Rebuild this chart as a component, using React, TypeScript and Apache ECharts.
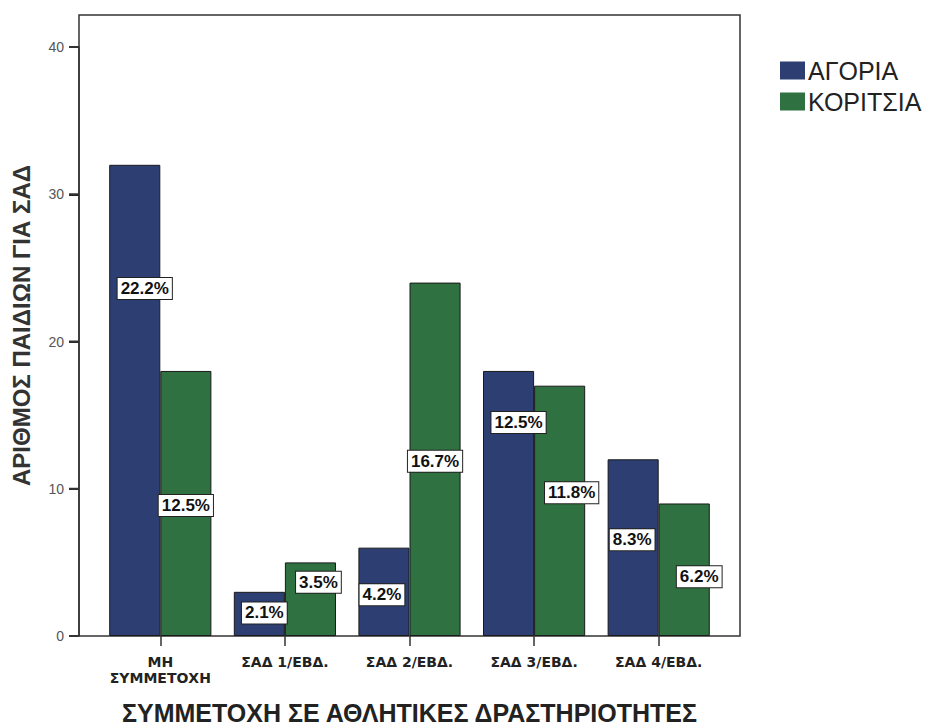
import React, { useEffect, useRef } from "react";
import * as echarts from "echarts";

const categories = ["ΜΗ\nΣΥΜΜΕΤΟΧΗ", "ΣΑΔ 1/ΕΒΔ.", "ΣΑΔ 2/ΕΒΔ.", "ΣΑΔ 3/ΕΒΔ.", "ΣΑΔ 4/ΕΒΔ."];
const boys = [32, 3, 6, 18, 12];
const girls = [18, 5, 24, 17, 9];
const boysPct = ["22.2%", "2.1%", "4.2%", "12.5%", "8.3%"];
const girlsPct = ["12.5%", "3.5%", "16.7%", "11.8%", "6.2%"];
const yTicks = [0, 10, 20, 30, 40];
const yMin = 0;
const yMax = 40;
const yInterval = 10;

// label offsets (styling only) relative to bar centre
const boysLabelOffset = [[10, -112], [5, -1], [-2, 3], [10, -81], [-1, -8]];
const girlsLabelOffset = [[0, 2], [8, -17], [0, 2], [12, -18], [15, 7]];

const FONT = "'Liberation Sans', Arial, sans-serif";
const WIDE = "'DejaVu Sans', Verdana, sans-serif";

export default function App() {
  const ref = useRef<HTMLDivElement>(null);
  useEffect(() => {
    if (!ref.current) return;
    const chart = echarts.init(ref.current, null, { renderer: "svg" });
    const labelStyle = {
      show: true,
      position: "inside",
      backgroundColor: "#ffffff",
      borderColor: "#222",
      borderWidth: 1,
      padding: [2, 3],
      color: "#111",
      fontFamily: FONT,
      fontWeight: "bold",
      fontSize: 17,
      lineHeight: 17,
    };
    const mk = (vals: number[], pcts: string[], offs: number[][]) =>
      vals.map((v, i) => ({
        value: v,
        label: { ...labelStyle, formatter: pcts[i], offset: offs[i] },
      }));
    const PLOT_LEFT = 79;
    const PLOT_TOP = 47;
    const PLOT_H = 589;
    chart.setOption({
      animation: false,
      backgroundColor: "#ffffff",
      textStyle: { fontFamily: FONT },
      legend: {
        orient: "vertical",
        left: 780,
        top: 58,
        padding: 0,
        icon: "rect",
        itemWidth: 25,
        itemHeight: 18,
        itemGap: 6,
        itemStyle: { borderWidth: 0 },
        textStyle: { fontSize: 25, color: "#222", fontFamily: FONT, padding: [0, 0, 0, -2] },
        data: ["ΑΓΟΡΙΑ", "ΚΟΡΙΤΣΙΑ"],
      },
      grid: [
        {
          left: PLOT_LEFT,
          width: 661,
          top: 15,
          height: 621,
          show: true,
          borderColor: "#333",
          borderWidth: 1.5,
          backgroundColor: "transparent",
          outerBoundsMode: "none",
          containLabel: false,
        },
        { left: PLOT_LEFT, width: 661, top: PLOT_TOP, height: PLOT_H, outerBoundsMode: "none", containLabel: false },
        { left: 98, width: 623, top: PLOT_TOP, height: PLOT_H, outerBoundsMode: "none", containLabel: false },
      ],
      xAxis: [
        { type: "value", gridIndex: 0, show: false, min: 0, max: 1 },
        { type: "value", gridIndex: 1, show: false, min: 0, max: 1 },
        {
          type: "category",
          gridIndex: 2,
          data: categories,
          axisLine: { show: false },
          axisTick: { show: true, alignWithLabel: true, length: 10, lineStyle: { color: "#333", width: 1.5 } },
          axisLabel: {
            margin: 18,
            fontSize: 14,
            lineHeight: 16,
            fontWeight: "bold",
            color: "#222",
            fontFamily: WIDE,
            interval: 0,
          },
          name: "ΣΥΜΜΕΤΟΧΗ ΣΕ ΑΘΛΗΤΙΚΕΣ ΔΡΑΣΤΗΡΙΟΤΗΤΕΣ",
          nameLocation: "middle",
          nameGap: 64,
          nameTextStyle: { fontSize: 25, fontWeight: "bold", color: "#222", fontFamily: FONT },
        },
      ],
      yAxis: [
        {
          type: "value",
          gridIndex: 0,
          min: 0,
          max: 1,
          axisLine: { show: false },
          axisTick: { show: false },
          axisLabel: { show: false },
          splitLine: { show: false },
          name: "ΑΡΙΘΜΟΣ ΠΑΙΔΙΩΝ ΓΙΑ ΣΑΔ",
          nameLocation: "middle",
          nameRotate: 90,
          nameGap: 46,
          nameTextStyle: { fontSize: 24, fontWeight: "bold", color: "#333", fontFamily: FONT },
        },
        {
          type: "value",
          gridIndex: 1,
          min: yMin,
          max: yMax,
          interval: yInterval,
          position: "left",
          axisLine: { show: true, onZero: false, lineStyle: { color: "#333", width: 1.5 } },
          axisTick: { show: true, inside: false, length: 10, lineStyle: { color: "#222", width: 2 } },
          axisLabel: { show: true, fontSize: 14, color: "#555", margin: 15, fontFamily: FONT },
          splitLine: { show: false },
        },
        { type: "value", gridIndex: 2, min: yMin, max: yMax, interval: yInterval, show: false },
      ],
      series: [
        {
          name: "ΑΓΟΡΙΑ",
          type: "bar",
          xAxisIndex: 2,
          yAxisIndex: 2,
          barGap: "0%",
          barCategoryGap: "18%",
          itemStyle: { color: "#2c3e72", borderColor: "#1a1a1a", borderWidth: 1 },
          data: mk(boys, boysPct, boysLabelOffset),
        },
        {
          name: "ΚΟΡΙΤΣΙΑ",
          type: "bar",
          xAxisIndex: 2,
          yAxisIndex: 2,
          barGap: "0%",
          barCategoryGap: "18%",
          itemStyle: { color: "#2f7140", borderColor: "#1a1a1a", borderWidth: 1 },
          data: mk(girls, girlsPct, girlsLabelOffset),
        },
      ],
    });
    // outward tick marks on the value axis, placed through the axis scale
    const tickRects = yTicks.map((v) => {
      let y = chart.convertToPixel({ yAxisIndex: 1 }, v) as unknown as number;
      if (typeof y !== "number" || !isFinite(y)) {
        y = PLOT_TOP + PLOT_H * (1 - (v - yMin) / (yMax - yMin));
      }
      return {
        type: "rect",
        shape: { x: PLOT_LEFT - 10, y: y - 1, width: 10, height: 2 },
        style: { fill: "#333" },
        z: 100,
        silent: true,
      };
    });
    chart.setOption({ graphic: { elements: tickRects } });
    return () => chart.dispose();
  }, []);
  return <div ref={ref} style={{ position: "absolute", left: 0, top: 0, width: 932, height: 726 }} />;
}
